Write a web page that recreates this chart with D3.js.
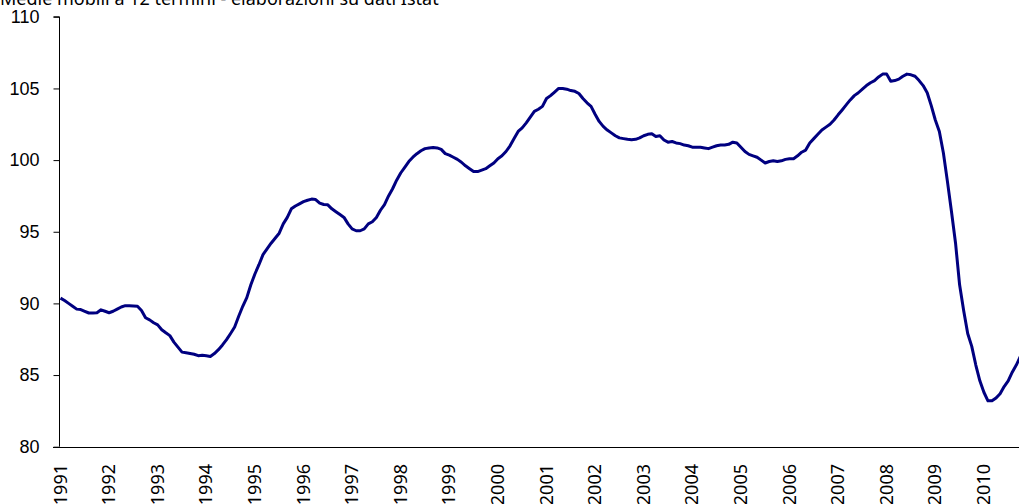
<!DOCTYPE html>
<html>
<head>
<meta charset="utf-8">
<script src="https://cdn.jsdelivr.net/npm/d3@7"></script>
<style>
  body { margin: 0; background: #fff; }
  svg { display: block; font-family: "Noto Sans", "Open Sans", sans-serif; }
  .lbl { font-size: 18px; fill: #000; }
</style>
</head>
<body>
<svg id="chart" width="1019" height="504"></svg>
<script>
// 12-month moving averages, Jan 1991 onward
const v1991 = [90.37, 90.2, 90.0, 89.8, 89.6, 89.57, 89.45, 89.33, 89.33, 89.35, 89.55, 89.45]
const v1992 = [89.35, 89.45, 89.6, 89.75, 89.84, 89.84, 89.82, 89.8, 89.5, 89.0, 88.85, 88.65]
const v1993 = [88.5, 88.16, 87.95, 87.75, 87.3, 86.95, 86.6, 86.55, 86.5, 86.45, 86.35, 86.38]
const v1994 = [86.35, 86.3, 86.5, 86.77, 87.1, 87.47, 87.9, 88.35, 89.1, 89.8, 90.4, 91.3]
const v1995 = [92.05, 92.7, 93.4, 93.8, 94.2, 94.55, 94.9, 95.55, 96.0, 96.6, 96.8, 96.95]
const v1996 = [97.1, 97.2, 97.28, 97.25, 97.0, 96.9, 96.88, 96.6, 96.4, 96.2, 96.0, 95.55]
const v1997 = [95.2, 95.07, 95.07, 95.2, 95.55, 95.7, 96.0, 96.5, 96.9, 97.5, 98.0, 98.6]
const v1998 = [99.1, 99.5, 99.9, 100.2, 100.45, 100.65, 100.8, 100.85, 100.88, 100.85, 100.75, 100.45]
const v1999 = [100.35, 100.2, 100.05, 99.85, 99.6, 99.4, 99.2, 99.2, 99.3, 99.4, 99.6, 99.8]
const v2000 = [100.1, 100.3, 100.6, 101.0, 101.5, 102.0, 102.25, 102.6, 103.0, 103.4, 103.55, 103.75]
const v2001 = [104.3, 104.5, 104.75, 105.0, 105.0, 104.95, 104.85, 104.8, 104.65, 104.3, 104.0, 103.75]
const v2002 = [103.2, 102.7, 102.35, 102.1, 101.9, 101.7, 101.55, 101.5, 101.45, 101.42, 101.45, 101.55]
const v2003 = [101.7, 101.8, 101.84, 101.65, 101.7, 101.4, 101.25, 101.3, 101.2, 101.15, 101.05, 101.0]
const v2004 = [100.9, 100.9, 100.9, 100.85, 100.8, 100.9, 101.0, 101.05, 101.05, 101.1, 101.25, 101.2]
const v2005 = [100.9, 100.6, 100.4, 100.3, 100.2, 100.0, 99.8, 99.9, 99.95, 99.9, 99.95, 100.05]
const v2006 = [100.1, 100.1, 100.3, 100.55, 100.7, 101.2, 101.5, 101.8, 102.1, 102.3, 102.5, 102.8]
const v2007 = [103.16, 103.5, 103.85, 104.2, 104.5, 104.7, 104.95, 105.2, 105.4, 105.55, 105.8, 106.0]
const v2008 = [106.0, 105.5, 105.55, 105.65, 105.85, 106.0, 105.95, 105.85, 105.55, 105.2, 104.7, 103.8]
const v2009 = [102.8, 102.0, 100.5, 98.5, 96.4, 94.2, 91.3, 89.5, 87.9, 87.0, 85.7, 84.6]
const v2010 = [83.8, 83.2, 83.2, 83.4, 83.7, 84.2, 84.6, 85.2, 85.7, 86.3]

const years = [1991, 1992, 1993, 1994, 1995, 1996, 1997, 1998, 1999, 2000,
               2001, 2002, 2003, 2004, 2005, 2006, 2007, 2008, 2009, 2010]
const yTicks = [80, 85, 90, 95, 100, 105, 110]
const title = 'Medie mobili a 12 termini - elaborazioni su dati Istat'

const values = [].concat(v1991, v1992, v1993, v1994, v1995, v1996, v1997, v1998, v1999, v2000,
  v2001, v2002, v2003, v2004, v2005, v2006, v2007, v2008, v2009, v2010)

const svg = d3.select('#chart')

const x = d3.scaleLinear().domain([0, 12]).range([60.5, 60.5 + 48.6])
const y = d3.scaleLinear().domain([80, 110]).range([446.7, 16.8])

// title, partly cut off by the top edge
svg.append('text')
  .attr('class', 'lbl')
  .attr('x', 0)
  .attr('y', 5)
  .text(title)

// y axis
const yAxis = svg.append('g')
  .attr('transform', 'translate(59.5,0)')
  .call(d3.axisLeft(y).tickValues(yTicks).tickSize(6).tickPadding(14))

yAxis.select('.domain').attr('stroke', '#000').attr('d', `M0,${y(80)}V${y(110)}H-6`)
yAxis.selectAll('.tick line').attr('stroke', '#000')
yAxis.selectAll('.tick text')
  .attr('class', 'lbl')
  .attr('font-family', null)
  .attr('font-size', null)

// x axis line
svg.append('line')
  .attr('x1', 53).attr('x2', 1019)
  .attr('y1', Math.round(y(80)) + 0.5).attr('y2', Math.round(y(80)) + 0.5)
  .attr('stroke', '#000')

// year labels, rotated
svg.append('g')
  .selectAll('text')
  .data(years)
  .join('text')
  .attr('class', 'lbl')
  .attr('text-anchor', 'end')
  .attr('transform', (d, i) => `translate(${x(i * 12) + 6},464) rotate(-90)`)
  .text(d => d)

// the series
const line = d3.line()
  .x((d, i) => x(i))
  .y(d => y(d))

svg.append('path')
  .datum(values)
  .attr('fill', 'none')
  .attr('stroke', '#000080')
  .attr('stroke-width', 3)
  .attr('stroke-linejoin', 'round')
  .attr('d', line)
</script>
</body>
</html>
